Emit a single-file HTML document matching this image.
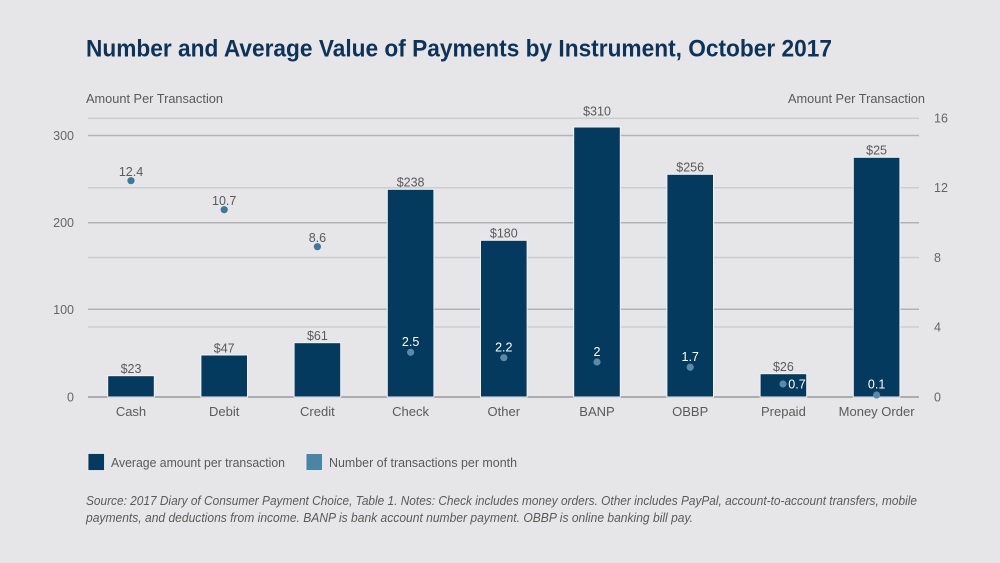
<!DOCTYPE html>
<html><head><meta charset="utf-8"><style>
html,body{margin:0;padding:0;background:#e6e6e8;}
svg{display:block;}
text{font-family:"Liberation Sans",sans-serif;}
</style></head><body>
<svg width="1000" height="563" viewBox="0 0 1000 563" xmlns="http://www.w3.org/2000/svg">
<rect x="0" y="0" width="1000" height="563" fill="#e6e6e8"/>
<text x="86" y="56.5" font-size="24" font-weight="bold" fill="#0d3359" textLength="746" lengthAdjust="spacingAndGlyphs">Number and Average Value of Payments by Instrument, October 2017</text>
<text x="86" y="103" font-size="13" fill="#5a5a5a" textLength="137" lengthAdjust="spacingAndGlyphs">Amount Per Transaction</text>
<text x="788" y="103" font-size="13" fill="#5a5a5a" textLength="137" lengthAdjust="spacingAndGlyphs">Amount Per Transaction</text>
<!-- right gridlines -->
<g stroke="#cdcdcf" stroke-width="1.5">
<line x1="88" x2="919" y1="118.3" y2="118.3"/>
<line x1="88" x2="919" y1="187.7" y2="187.7"/>
<line x1="88" x2="919" y1="257.5" y2="257.5"/>
<line x1="88" x2="919" y1="327" y2="327"/>
</g>
<!-- left gridlines -->
<g stroke="#b3b3b5" stroke-width="1.5">
<line x1="88" x2="919" y1="135.5" y2="135.5"/>
<line x1="88" x2="919" y1="222.7" y2="222.7"/>
<line x1="88" x2="919" y1="309.3" y2="309.3"/>
</g>
<line x1="88" x2="919" y1="397" y2="397" stroke="#9a9a9c" stroke-width="1.5"/>
<!-- left ticks -->
<g font-size="12.5" fill="#666" text-anchor="end">
<text x="74" y="140">300</text>
<text x="74" y="227">200</text>
<text x="74" y="314">100</text>
<text x="74" y="401.5">0</text>
</g>
<g font-size="12.5" fill="#666">
<text x="934" y="122.5">16</text>
<text x="934" y="192">12</text>
<text x="934" y="262">8</text>
<text x="934" y="331.5">4</text>
<text x="934" y="401.5">0</text>
</g>
<!-- bars -->
<g fill="#033a5e" stroke="#f2f2f2" stroke-width="1">
<rect x="107.7" y="375.7" width="46.6" height="21.3"/>
<rect x="200.9" y="355" width="46.6" height="42"/>
<rect x="294.1" y="342.7" width="46.6" height="54.3"/>
<rect x="387.3" y="189.3" width="46.6" height="207.7"/>
<rect x="480.5" y="240.3" width="46.6" height="156.7"/>
<rect x="573.7" y="127" width="46.6" height="270"/>
<rect x="666.9" y="174.3" width="46.6" height="222.7"/>
<rect x="760.1" y="373.7" width="46.6" height="23.3"/>
<rect x="853.3" y="157.3" width="46.6" height="239.7"/>
</g>
<!-- bar labels -->
<g font-size="12.5" fill="#5a5a5a" text-anchor="middle">
<text x="131" y="373">$23</text>
<text x="224.2" y="352.5">$47</text>
<text x="317.4" y="340">$61</text>
<text x="410.6" y="186.5">$238</text>
<text x="503.8" y="237.5">$180</text>
<text x="597" y="115.5">$310</text>
<text x="690.2" y="171.5">$256</text>
<text x="783.4" y="371">$26</text>
<text x="876.6" y="154.5">$25</text>
</g>
<!-- dots off bars -->
<g fill="#3d799b">
<circle cx="131" cy="180.7" r="3.6"/>
<circle cx="224.2" cy="209.7" r="3.6"/>
<circle cx="317.4" cy="246.7" r="3.6"/>
</g>
<g font-size="12.5" fill="#5a5a5a" text-anchor="middle">
<text x="131" y="176">12.4</text>
<text x="224.2" y="205">10.7</text>
<text x="317.4" y="242">8.6</text>
</g>
<!-- dots on bars -->
<g fill="#5a8aa8">
<circle cx="410.6" cy="352.3" r="3.6"/>
<circle cx="503.8" cy="357.7" r="3.6"/>
<circle cx="597" cy="362" r="3.6"/>
<circle cx="690.2" cy="367.2" r="3.6"/>
<circle cx="783" cy="384" r="3.6"/>
<circle cx="876.6" cy="395" r="3.6"/>
</g>
<g font-size="12.5" fill="#ffffff" text-anchor="middle">
<text x="410.6" y="346">2.5</text>
<text x="503.8" y="351.5">2.2</text>
<text x="597" y="356">2</text>
<text x="690.2" y="361">1.7</text>
<text x="797" y="388.5">0.7</text>
<text x="876.6" y="388.5">0.1</text>
</g>
<!-- categories -->
<g font-size="13" fill="#5a5a5a" text-anchor="middle">
<text x="131" y="416">Cash</text>
<text x="224.2" y="416">Debit</text>
<text x="317.4" y="416">Credit</text>
<text x="410.6" y="416">Check</text>
<text x="503.8" y="416">Other</text>
<text x="597" y="416">BANP</text>
<text x="690.2" y="416">OBBP</text>
<text x="783.4" y="416">Prepaid</text>
<text x="876.6" y="416">Money Order</text>
</g>
<!-- legend -->
<rect x="88" y="453.5" width="16.5" height="17" fill="#033a5e" stroke="#f2f2f2" stroke-width="0.8"/>
<text x="111" y="467" font-size="13" fill="#5a5a5a" textLength="174" lengthAdjust="spacingAndGlyphs">Average amount per transaction</text>
<rect x="306" y="453.5" width="16.5" height="17" fill="#4a86a3" stroke="#f2f2f2" stroke-width="0.8"/>
<text x="329" y="467" font-size="13" fill="#5a5a5a" textLength="188" lengthAdjust="spacingAndGlyphs">Number of transactions per month</text>
<!-- footnote -->
<g font-size="12.5" font-style="italic" fill="#5a5a5a">
<text x="86" y="505" textLength="831" lengthAdjust="spacingAndGlyphs">Source: 2017 Diary of Consumer Payment Choice, Table 1. Notes: Check includes money orders. Other includes PayPal, account-to-account transfers, mobile</text>
<text x="86" y="522" textLength="607" lengthAdjust="spacingAndGlyphs">payments, and deductions from income. BANP is bank account number payment. OBBP is online banking bill pay.</text>
</g>
</svg>
</body></html>
